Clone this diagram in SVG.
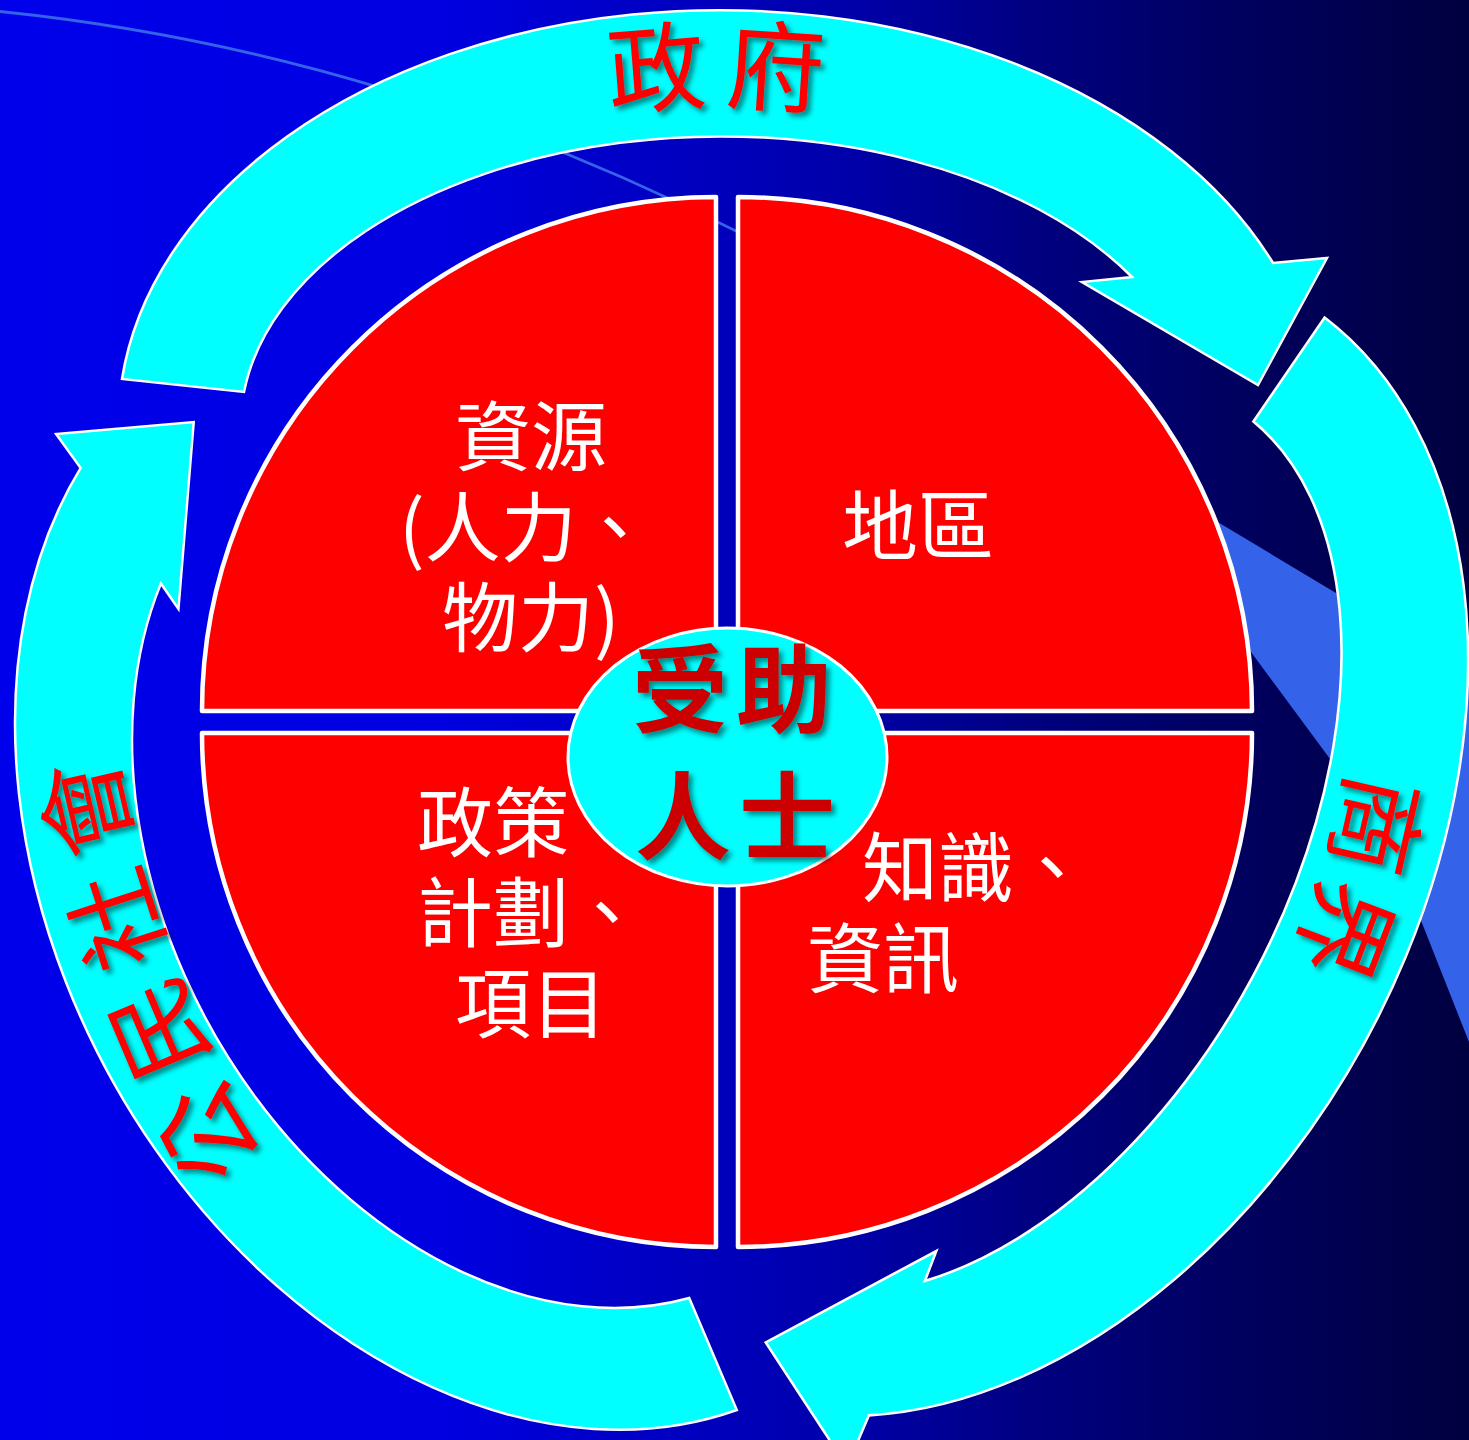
<svg xmlns="http://www.w3.org/2000/svg" width="1469" height="1440" viewBox="0 0 1469 1440">
<defs>
  <linearGradient id="bg" x1="0" y1="0" x2="1469" y2="0" gradientUnits="userSpaceOnUse">
    <stop offset="0" stop-color="#0000eb"/>
    <stop offset="0.3" stop-color="#0000e1"/>
    <stop offset="0.42" stop-color="#0000c8"/>
    <stop offset="0.57" stop-color="#0000ac"/>
    <stop offset="0.7" stop-color="#000082"/>
    <stop offset="0.82" stop-color="#000064"/>
    <stop offset="1" stop-color="#000040"/>
  </linearGradient>
  <filter id="shadow" x="-20%" y="-20%" width="140%" height="140%">
    <feDropShadow dx="4" dy="4" stdDeviation="2.5" flood-color="#000000" flood-opacity="0.45"/>
  </filter>
  <path id="p-gov" d="M 214 423 A 507 321 0 0 1 1228 423"/>
  <path id="p-biz" d="M 1348.6 517.4 A 752 752 0 0 1 1139.7 1179.7"/>
  <path id="p-civ" d="M 392.4 1342.8 A 1301 1301 0 0 1 88 506.5"/>
</defs>
<style>
  .arrow { fill: #00ffff; stroke: #ffffff; stroke-width: 2.5; stroke-linejoin: miter; }
  .quad { fill: #ff0000; stroke: #ffffff; stroke-width: 4.5; stroke-linejoin: round; }
  .hub { fill: #00ffff; stroke: #ffffff; stroke-width: 3; }
  .qt { font-family: "Noto Sans CJK TC", "Noto Sans CJK SC", sans-serif; font-size: 76px; fill: #ffffff; }
  .arc { font-family: "Noto Sans CJK TC", "Noto Sans CJK SC", sans-serif; font-size: 98px; fill: #ff0000; }
  .hubt { font-family: "Noto Sans CJK TC", "Noto Sans CJK SC", sans-serif; font-size: 96px; font-weight: bold; fill: #cc0000; }
</style>

<g id="background">
  <rect x="0" y="0" width="1469" height="1440" fill="url(#bg)"/>
  <path d="M 0 10 Q 380 49 737 230 L 1221 524 L 1341 596 L 1469 682 L 1469 1042 L 1422 923 L 1336 767 L 1251 652 L 1000 440 L 737 233 Q 380 52 0 13 Z" fill="#3462e8"/>
</g>

<g id="connectors">
  <g id="arrow-government">
    <path class="arrow" d="M 122 379 A 601 414 0 0 1 1273 263 L 1327 258 L 1258 385 L 1082 282 L 1132 277 A 480 290 0 0 0 244 392 Z"/>
    <text class="arc" text-anchor="middle" filter="url(#shadow)"><textPath href="#p-gov" startOffset="653.5">政<tspan dx="17">府</tspan></textPath></text>
  </g>
  <g id="arrow-business">
    <path class="arrow" transform="translate(1289 369.5) rotate(118.3) scale(1.0276) translate(-183 -385.5)" d="M 122 379 A 601 414 0 0 1 1273 263 L 1327 258 L 1258 385 L 1101 281 L 1132 277 A 480 290 0 0 0 244 392 Z"/>
    <text class="arc" text-anchor="middle" filter="url(#shadow)"><textPath href="#p-biz" startOffset="354">商<tspan dx="7">界</tspan></textPath></text>
  </g>
  <g id="arrow-civil">
    <path class="arrow" transform="translate(713 1354) rotate(240.9) scale(0.9924) translate(-183 -385.5)" d="M 122 379 A 601 443 0 0 1 1273 263 L 1315 258 L 1258 385 L 1101 280 L 1132 277 A 480 349 0 0 0 244 392 Z"/>
    <text class="arc" text-anchor="middle" filter="url(#shadow)"><textPath href="#p-civ" startOffset="443">公<tspan dx="15">民</tspan><tspan dx="15">社</tspan><tspan dx="15">會</tspan></textPath></text>
  </g>
</g>

<g id="node-resources">
  <path class="quad" d="M 716 711 L 202 711 A 514 514 0 0 1 716 197 Z"/>
  <text class="qt"><tspan x="455" y="465">資源</tspan><tspan x="399" y="556">(人力、</tspan><tspan x="442" y="646">物力)</tspan></text>
</g>
<g id="node-region">
  <path class="quad" d="M 738 711 L 738 197 A 514 514 0 0 1 1252 711 Z"/>
  <text class="qt" x="842" y="554">地區</text>
</g>
<g id="node-policy">
  <path class="quad" d="M 716 733 L 716 1247 A 514 514 0 0 1 202 733 Z"/>
  <text class="qt"><tspan x="417" y="851">政策</tspan><tspan x="417" y="941">計劃、</tspan><tspan x="455" y="1032">項目</tspan></text>
</g>
<g id="node-knowledge">
  <path class="quad" d="M 738 733 L 1252 733 A 514 514 0 0 1 738 1247 Z"/>
  <text class="qt"><tspan x="862" y="896">知識、</tspan><tspan x="807" y="987">資訊</tspan></text>
</g>

<g id="node-beneficiaries">
  <ellipse class="hub" cx="727.5" cy="757" rx="159.5" ry="129"/>
  <text class="hubt" text-anchor="middle" filter="url(#shadow)"><tspan x="732" y="725">受<tspan dx="8">助</tspan></tspan><tspan x="735" y="852">人<tspan dx="8">士</tspan></tspan></text>
</g>
</svg>
